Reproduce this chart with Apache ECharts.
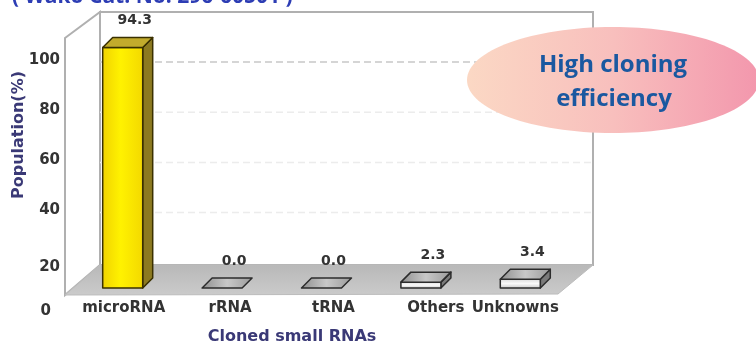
<!DOCTYPE html>
<html>
<head>
<meta charset="utf-8">
<title>Cloned small RNAs</title>
<script src="https://cdn.jsdelivr.net/npm/echarts@6.0.0/dist/echarts.min.js"></script>
<style>
  html, body { margin: 0; padding: 0; background: #ffffff; }
  #chart { width: 756px; height: 347px; }
</style>
</head>
<body>
<div id="chart"></div>
<script>
// Cloned small RNA populations (%)
const categories = ['microRNA', 'rRNA', 'tRNA', 'Others', 'Unknowns'];
const population = [94.3, 0.0, 0.0, 2.3, 3.4];
// Value axis ticks and the dashed guide lines on the back wall
const yTicks = [0, 20, 40, 60, 80, 100];
const wallGuides = [40, 60, 80, 100];

const LABEL_FONT = '"DejaVu Sans", "Liberation Sans", sans-serif';
const CALLOUT_FONT = '"Open Sans", "Noto Sans", sans-serif';
const AXIS_TITLE_COLOR = '#3a3976';
const LABEL_COLOR = '#333333';

const chart = echarts.init(document.getElementById('chart'), null, { renderer: 'canvas' });

// Face colours of the pseudo-3D boxes
function boxColors(idx) {
  if (idx === 0) {
    return {
      front: new echarts.graphic.LinearGradient(0, 0, 1, 0, [
        { offset: 0, color: '#f0d200' },
        { offset: 0.45, color: '#fff200' },
        { offset: 1, color: '#f3d800' }
      ]),
      side: '#8c7a20',
      top: '#c2ab2c',
      stroke: '#3a3000'
    };
  }
  return {
    front: new echarts.graphic.LinearGradient(0, 0, 0, 1, [
      { offset: 0, color: '#d8d8d8' },
      { offset: 0.5, color: '#fafafa' },
      { offset: 1, color: '#c4c4c4' }
    ]),
    side: '#7a7a7a',
    top: new echarts.graphic.LinearGradient(0, 0, 1, 0, [
      { offset: 0, color: '#8e8e8e' },
      { offset: 0.5, color: '#c8c8c8' },
      { offset: 1, color: '#9a9a9a' }
    ]),
    stroke: '#2c2c2c'
  };
}

// A box: front face, right side and top, plus its value label
function renderBox(params, api) {
  const idx = api.value(0);
  const v = api.value(1);
  const base = api.coord([idx, 0]);
  const head = api.coord([idx, v]);
  const half = 20, dx = 10, dy = 10;
  const xl = base[0] - half, xr = base[0] + half;
  const yb = base[1], yt = head[1];
  const c = boxColors(idx);
  const edge = { stroke: c.stroke, lineWidth: 1.5, lineJoin: 'round' };
  const kids = [];
  if (yb - yt > 0.5) {
    kids.push({
      type: 'polygon',
      shape: { points: [[xr, yt], [xr + dx, yt - dy], [xr + dx, yb - dy], [xr, yb]] },
      style: Object.assign({ fill: c.side }, edge)
    });
    kids.push({
      type: 'rect',
      shape: { x: xl, y: yt, width: xr - xl, height: yb - yt },
      style: Object.assign({ fill: c.front }, edge)
    });
  }
  kids.push({
    type: 'polygon',
    shape: { points: [[xl, yt], [xr, yt], [xr + dx, yt - dy], [xl + dx, yt - dy]] },
    style: Object.assign({ fill: c.top }, edge)
  });
  kids.push({
    type: 'text',
    x: base[0] + 12,
    y: yt - dy - 17,
    style: {
      text: v.toFixed(1),
      font: 'bold 14px ' + LABEL_FONT,
      fill: LABEL_COLOR,
      align: 'center',
      verticalAlign: 'middle'
    }
  });
  return { type: 'group', children: kids };
}

// Dashed guide lines across the back wall
function renderGuide(params, api) {
  const v = api.value(1);
  const p0 = api.coord([0, v]);
  const p1 = api.coord([1, v]);
  return {
    type: 'line',
    shape: { x1: p0[0], y1: p0[1] + 2, x2: p1[0], y2: p1[1] + 2 },
    style: {
      stroke: v === 100 ? '#c8c8c8' : '#ececec',
      lineWidth: 1.5,
      lineDash: [7, 4]
    }
  };
}

// Horizontal nudges for the category labels
const catLabelPad = [[0, 0, 0, 2], [0, 0, 0, 16], [0, 0, 0, 24], [0, 0, 0, 30], [0, 10, 0, 0]];
const catRich = {};
catLabelPad.forEach((pad, i) => {
  catRich['c' + i] = {
    padding: pad,
    fontFamily: LABEL_FONT,
    fontWeight: 'bold',
    fontSize: 15,
    color: LABEL_COLOR
  };
});

const tickRich = {
  n: { fontFamily: LABEL_FONT, fontWeight: 'bold', fontSize: 15, color: LABEL_COLOR },
  z: { fontFamily: LABEL_FONT, fontWeight: 'bold', fontSize: 15, color: LABEL_COLOR, padding: [0, 9, 0, 0] },
  t: { fontFamily: LABEL_FONT, fontWeight: 'bold', fontSize: 15, color: LABEL_COLOR, padding: [12, 0, 0, 0] }
};

const wallStroke = { stroke: '#b0b0b0', lineWidth: 2 };

const option = {
  animation: false,
  backgroundColor: '#ffffff',
  grid: [
    // boxes
    { left: 73, right: 186, top: 33, bottom: 59 },
    // value axis labels and back-wall guides
    { left: 100, right: 164, top: 60, bottom: 36 }
  ],
  xAxis: [
    {
      gridIndex: 0,
      type: 'category',
      data: categories,
      axisLine: { show: false },
      axisTick: { show: false },
      splitLine: { show: false },
      axisLabel: {
        interval: 0,
        margin: 13,
        formatter: (value, index) => '{c' + index + '|' + value + '}',
        rich: catRich
      }
    },
    { gridIndex: 1, type: 'value', min: 0, max: 1, show: false }
  ],
  yAxis: [
    { gridIndex: 0, type: 'value', min: 0, max: 100, show: false },
    {
      gridIndex: 1,
      type: 'value',
      min: yTicks[0],
      max: yTicks[yTicks.length - 1],
      interval: yTicks[1] - yTicks[0],
      axisLine: { show: false },
      axisTick: { show: false },
      splitLine: { show: false },
      axisLabel: {
        margin: 40,
        formatter: (v) => (v === 0 ? '{z|' + v + '}' : v === 20 ? '{t|' + v + '}' : '{n|' + v + '}'),
        rich: tickRich
      }
    }
  ],
  graphic: [
    // back wall
    { type: 'rect', z: 0, shape: { x: 100, y: 12, width: 493, height: 253 }, style: Object.assign({ fill: '#ffffff' }, wallStroke) },
    // left wall
    { type: 'polygon', z: 0, shape: { points: [[65, 38], [100, 12], [100, 265], [65, 295]] }, style: Object.assign({ fill: '#ffffff' }, wallStroke) },
    // floor
    {
      type: 'polygon', z: 0,
      shape: { points: [[65, 295], [100, 265], [593, 265], [558, 294]] },
      style: {
        fill: new echarts.graphic.LinearGradient(0, 0, 0, 1, [
          { offset: 0, color: '#b8b8b8' },
          { offset: 1, color: '#cbcbcb' }
        ]),
        stroke: '#bcbcbc',
        lineWidth: 1
      }
    },
    // catalogue heading, running off the top edge
    {
      type: 'text', z: 5, x: 12, y: 8,
      style: {
        text: '( Wako Cat. No. 296-60501 )',
        font: 'bold 21px ' + CALLOUT_FONT,
        fill: '#2d3db4',
        align: 'left',
        verticalAlign: 'bottom'
      }
    },
    // axis titles
    {
      type: 'text', z: 5, x: 19, y: 135, rotation: Math.PI / 2,
      style: {
        text: 'Population(%)',
        font: 'bold 16px ' + LABEL_FONT,
        fill: AXIS_TITLE_COLOR,
        align: 'center',
        verticalAlign: 'middle'
      }
    },
    {
      type: 'text', z: 5, x: 292, y: 337,
      style: {
        text: 'Cloned small RNAs',
        font: 'bold 16px ' + LABEL_FONT,
        fill: AXIS_TITLE_COLOR,
        align: 'center',
        verticalAlign: 'middle'
      }
    },
    // callout bubble
    {
      type: 'ellipse', z: 20,
      shape: { cx: 613, cy: 80, rx: 146, ry: 53 },
      style: {
        fill: new echarts.graphic.LinearGradient(0, 0, 1, 0, [
          { offset: 0, color: '#fbd8c4' },
          { offset: 0.5, color: '#f8bfbd' },
          { offset: 1, color: '#f397ad' }
        ])
      }
    },
    {
      type: 'text', z: 21, x: 613, y: 65,
      style: {
        text: 'High cloning',
        font: 'bold 24px ' + CALLOUT_FONT,
        fill: '#1a58a0',
        align: 'center',
        verticalAlign: 'middle'
      }
    },
    {
      type: 'text', z: 21, x: 614, y: 99,
      style: {
        text: 'efficiency',
        font: 'bold 24px ' + CALLOUT_FONT,
        fill: '#1a58a0',
        align: 'center',
        verticalAlign: 'middle'
      }
    }
  ],
  series: [
    {
      type: 'custom',
      name: 'guides',
      xAxisIndex: 1,
      yAxisIndex: 1,
      z: 1,
      silent: true,
      renderItem: renderGuide,
      data: wallGuides.map((v) => [0, v])
    },
    {
      type: 'custom',
      name: 'Population',
      xAxisIndex: 0,
      yAxisIndex: 0,
      z: 3,
      renderItem: renderBox,
      data: population.map((v, i) => [i, v])
    }
  ]
};

chart.setOption(option);
</script>
</body>
</html>
